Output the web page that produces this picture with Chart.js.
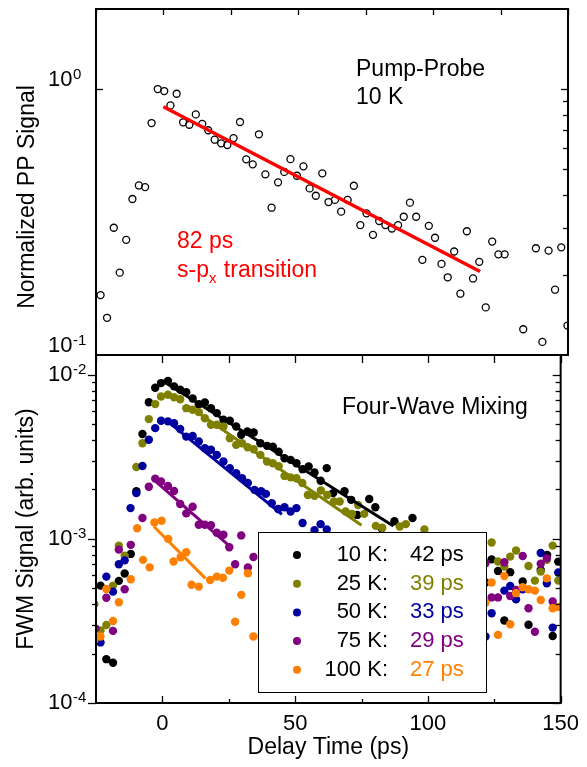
<!DOCTYPE html>
<html><head><meta charset="utf-8">
<script src="https://cdn.jsdelivr.net/npm/chart.js@4.4.1/dist/chart.umd.min.js"></script>
<style>
html,body{margin:0;padding:0;background:#fff;}
#wrap{position:relative;width:587px;height:767px;overflow:hidden;}
canvas{position:absolute;left:0;top:0;}
</style></head><body>
<div id="wrap"><canvas id="c1" width="587" height="767"></canvas><canvas id="c2" width="587" height="767"></canvas></div>
<script>
// ---------------- DATA ----------------
const ppTime = [-23.3,-20.9,-18.4,-16.2,-13.8,-11.5,-9.1,-6.8,-4.4,-2.1,0.3,2.6,4.9,7.3,9.6,12.0,14.4,16.6,19.0,21.4,23.7,26.0,28.4,30.7,33.1,35.4,37.8,40.1,42.5,44.8,47.1,49.5,51.9,54.2,56.5,58.9,61.2,63.6,65.9,68.3,70.6,73.0,75.3,77.7,80.0,82.3,84.7,87.0,89.1,91.4,93.7,96.0,98.4,100.7,103.1,105.4,107.8,110.1,112.5,114.8,117.1,119.5,121.9,124.2,126.5,133.4,138.1,140.5,142.8,145.2,147.5,149.8];
const ppSignal = [0.168,0.138,0.301,0.204,0.271,0.386,0.434,0.428,0.745,1.0,0.983,0.868,0.96,0.75,0.734,0.803,0.74,0.70,0.645,0.625,0.616,0.654,0.752,0.544,0.521,0.676,0.478,0.358,0.446,0.488,0.545,0.472,0.512,0.423,0.397,0.482,0.376,0.383,0.346,0.383,0.433,0.308,0.341,0.283,0.319,0.308,0.299,0.308,0.331,0.374,0.331,0.228,0.306,0.276,0.220,0.196,0.245,0.170,0.292,0.194,0.224,0.151,0.267,0.239,0.239,0.125,0.252,0.112,0.247,0.176,0.254,0.129];
const ppFitTime = [0, 117.4];
const ppFitSignal = [0.858, 0.206];

const t10 = [-23.3,-21.1,-18.6,-16.4,-14.2,-11.9,-9.8,-7.5,-5.1,-2.7,-0.5,2.1,4.4,6.7,9.0,11.4,13.7,16.0,18.3,20.5,23.0,25.4,27.8,29.7,32.0,34.4,36.9,39.4,41.6,43.8,46.0,48.3,50.5,52.8,55.1,57.3,59.6,61.9,64.3,68.6,71.1,73.4,77.9,80.2,82.6,87.4,94.2,121.7,124.0,126.4,128.8,131.0,135.7,137.9,142.5,144.9,147.0,149.1];
const v10 = [5.19e-4,1.85e-4,1.76e-4,5.55e-4,6.15e-4,8.1e-4,1.95e-3,4.36e-3,6.8e-3,8.33e-3,8.9e-3,9.16e-3,8.5e-3,8.1e-3,7.84e-3,7.17e-3,6.62e-3,6.78e-3,6.26e-3,5.84e-3,5.32e-3,5.25e-3,4.84e-3,4.31e-3,4.51e-3,4.45e-3,3.83e-3,3.69e-3,3.65e-3,3.4e-3,3.1e-3,3.03e-3,2.89e-3,2.66e-3,2.76e-3,2.54e-3,2.26e-3,2.7e-3,1.9e-3,1.95e-3,1.73e-3,1.4e-3,1.75e-3,1.56e-3,1.16e-3,1.28e-3,1.34e-3,5.42e-4,7.5e-4,6.38e-4,3.18e-4,6.27e-4,5.5e-4,3.0e-4,6.46e-4,7.98e-4,2.56e-4,7.27e-4];

const t25 = [-25.6,-23.3,-21.1,-18.6,-16.4,-14.2,-9.8,-7.5,-5.1,-2.7,-0.5,2.1,4.4,6.7,9.0,11.4,13.7,16.0,18.3,20.5,23.0,25.4,27.8,30.0,32.1,34.4,36.9,39.4,41.6,43.8,46.0,48.3,50.5,52.7,54.8,57.3,59.7,62.1,64.6,66.8,69.0,71.4,73.7,76.0,80.4,82.8,89.4,91.7,98.7,119.9,124.0,126.4,128.8,131.0,133.2,137.9,140.3,142.5,144.8,147.0,149.1];
const v25 = [4.0e-4,2.77e-4,2.99e-4,5.19e-4,9.1e-4,7.9e-4,2.74e-3,3.83e-3,5.37e-3,6.63e-3,7.38e-3,7.55e-3,7.3e-3,7.1e-3,6.26e-3,6.12e-3,5.92e-3,5.44e-3,4.96e-3,4.96e-3,4.84e-3,4.11e-3,3.74e-3,3.83e-3,3.62e-3,3.52e-3,3.25e-3,2.96e-3,2.89e-3,2.77e-3,2.42e-3,2.37e-3,2.34e-3,2.19e-3,1.85e-3,1.83e-3,1.97e-3,1.85e-3,1.69e-3,1.69e-3,1.47e-3,1.42e-3,1.61e-3,1.42e-3,1.2e-3,1.17e-3,1.19e-3,1.23e-3,1.14e-3,5.5e-4,9.5e-4,7.28e-4,6.78e-4,7.8e-4,8.5e-4,6.84e-4,5.57e-4,6.32e-4,7.45e-4,9.1e-4,5.57e-4];

const t50 = [-24.9,-23.3,-21.1,-18.6,-16.4,-14.2,-12.0,-9.8,-7.5,-5.1,-2.7,-0.5,2.1,4.4,6.7,9.0,11.4,13.7,16.0,18.3,20.5,23.0,25.4,27.8,30.0,32.2,34.7,37.2,39.0,41.2,43.6,46.0,48.3,50.5,52.8,57.3,59.6,61.9,119.9,121.7,124.0,128.8,131.0,133.2,135.7,142.5,144.8,147.0,149.1];
const v50 = [2.42e-4,2.34e-4,5.89e-4,4.77e-4,7.0e-4,7.4e-4,1.54e-3,1.9e-3,2.78e-3,4.02e-3,4.73e-3,5.25e-3,5.2e-3,5.07e-3,4.67e-3,4.2e-3,4.24e-3,3.92e-3,3.57e-3,3.49e-3,3.25e-3,2.96e-3,2.7e-3,2.51e-3,2.34e-3,2.19e-3,1.99e-3,1.95e-3,1.88e-3,1.65e-3,1.52e-3,1.56e-3,1.47e-3,1.54e-3,1.25e-3,1.13e-3,1.23e-3,1.14e-3,4.24e-4,2.54e-4,3.52e-4,4.84e-4,5.17e-4,4.28e-4,4.93e-4,8.2e-4,5.37e-4,2.88e-4,6.24e-4];

const t75 = [-25.2,-21.1,-18.6,-16.4,-14.2,-11.9,-7.5,-5.1,-2.7,-0.5,2.1,4.4,6.7,9.0,11.4,13.7,16.0,18.3,20.5,23.0,25.2,27.4,29.7,32.2,34.3,119.9,121.7,124.0,126.4,128.8,131.0,133.2,135.7,137.9,140.3,142.5,144.8,147.0];
const v75 = [2.85e-4,4.38e-4,2.75e-4,8.6e-4,4.93e-4,9.2e-4,1.34e-3,2.08e-3,2.33e-3,2.24e-3,2.1e-3,1.96e-3,1.63e-3,1.43e-3,1.57e-3,1.22e-3,1.22e-3,1.21e-3,1.09e-3,1.06e-3,8.9e-4,7.0e-4,1.05e-3,6.7e-4,7.76e-4,4.45e-4,7.1e-4,4.4e-4,4.4e-4,7.2e-4,4.49e-4,4.89e-4,7.87e-4,3.78e-4,2.72e-4,7.05e-4,7.62e-4,4.15e-4];

const t100 = [-25.6,-23.3,-21.1,-18.6,-16.4,-11.9,-9.5,-7.3,-4.8,-3.0,-0.3,2.2,4.2,6.9,9.0,11.0,13.7,18.0,20.5,22.8,25.2,27.4,29.7,32.2,34.3,119.9,121.7,124.0,126.4,128.8,131.0,133.2,135.7,137.9,140.3,142.5,144.8,147.0,149.1];
const v100 = [2.42e-4,2.54e-4,4.95e-4,3.16e-4,4.11e-4,5.68e-4,1.16e-3,7.45e-4,6.71e-4,1.26e-3,1.29e-3,1.0e-3,7.28e-4,7.73e-4,8.3e-4,5.25e-4,5.12e-4,5.62e-4,5.89e-4,5.8e-4,6.41e-4,3.13e-4,4.56e-4,6.18e-4,2.54e-4,2.31e-4,4.08e-4,5.42e-4,2.6e-4,5.94e-4,3.02e-4,4.67e-4,5.07e-4,4.93e-4,4.84e-4,4.24e-4,5.75e-4,3.78e-4,3.85e-4];

const fitTime = [[0, 87], [10, 75], [2, 45], [-3.2, 24.8], [-3.2, 16.2]];
const fitSignal = [[9.2e-3, 1.2e-3], [6.4e-3, 1.21e-3], [5.2e-3, 1.41e-3], [2.29e-3, 9.2e-4], [1.19e-3, 5.75e-4]];

const seriesTemps = ['10 K:', '25 K:', '50 K:', '75 K:', '100 K:'];
const seriesTaus = ['42 ps', '39 ps', '33 ps', '29 ps', '27 ps'];
const seriesColors = ['#000000', '#808000', '#0000a0', '#800080', '#ff8000'];

const xTickValues = [-25, 0, 25, 50, 75, 100, 125, 150];
const xMajorValues = [0, 50, 100, 150];
const xMinorValues = [25, 75, 125];
const xTickLabels = ['0', '50', '100', '150'];
const ppMajor = [0.1, 1];
const ppMinor = [0.2, 0.3, 0.4, 0.5, 0.6, 0.7, 0.8, 0.9];
const ppTickExp = ['-1', '0'];
const fwmMajor = [1e-4, 1e-3, 1e-2];
const fwmMinor = [2e-4,3e-4,4e-4,5e-4,6e-4,7e-4,8e-4,9e-4,2e-3,3e-3,4e-3,5e-3,6e-3,7e-3,8e-3,9e-3];
const fwmTickExp = ['-4', '-3', '-2'];

// ---------------- HELPERS ----------------
const FONT = '"Liberation Sans", Arial, Helvetica, sans-serif';
const pts = (xs, ys) => xs.map((x, i) => ({x: x, y: ys[i]}));

function vTicks(ctx, scale, x, values, len) {
  values.forEach(v => {
    const y = Math.round(scale.getPixelForValue(v)) + 0.5;
    ctx.beginPath(); ctx.moveTo(x, y); ctx.lineTo(x + len, y); ctx.stroke();
  });
}
function hTicks(ctx, scale, y, values, len) {
  values.forEach(v => {
    const x = Math.round(scale.getPixelForValue(v)) + 0.5;
    ctx.beginPath(); ctx.moveTo(x, y); ctx.lineTo(x, y + len); ctx.stroke();
  });
}
// decade labels "10" with a superscript exponent, placed by the y scale
function powLabels(ctx, scale, values, exps, dy) {
  ctx.save();
  ctx.fillStyle = '#000';
  values.forEach((v, i) => {
    const y = scale.getPixelForValue(v) + dy;
    ctx.font = '22px ' + FONT;
    ctx.textAlign = 'left'; ctx.textBaseline = 'middle';
    const bx = 48;
    ctx.fillText('10', bx, y);
    const w = ctx.measureText('10').width;
    ctx.font = '15px ' + FONT;
    ctx.textBaseline = 'alphabetic';
    ctx.fillText(exps[i], bx + w + 0.5, y - 1);
  });
  ctx.restore();
}

// ---------------- TOP: PUMP-PROBE ----------------
const topFrame = {
  id: 'topFrame',
  afterDatasetsDraw(chart) {
    const {ctx, chartArea: a, scales: {x, y}} = chart;
    ctx.save();
    ctx.strokeStyle = '#000'; ctx.lineWidth = 1.3;
    hTicks(ctx, x, a.top, xTickValues, 6);
    vTicks(ctx, y, a.left, [1], 7);
    vTicks(ctx, y, a.right, [1], -7);
    vTicks(ctx, y, a.right, ppMinor, -5);
    ctx.lineWidth = 2;
    ctx.strokeRect(a.left, a.top, a.right - a.left, a.bottom - a.top);
    ctx.restore();
  },
  afterDraw(chart) {
    const ctx = chart.ctx;
    powLabels(ctx, chart.scales.y, ppMajor, ppTickExp, -9);
    ctx.save();
    ctx.fillStyle = '#000';
    ctx.font = '23px ' + FONT;
    ctx.textBaseline = 'alphabetic';
    ctx.fillText('Pump-Probe', 356, 76);
    ctx.fillText('10 K', 356, 104);
    ctx.fillStyle = '#ff0000';
    ctx.fillText('82 ps', 177, 248);
    let xx = 177;
    ctx.fillText('s-p', xx, 277); xx += ctx.measureText('s-p').width;
    ctx.font = '15px ' + FONT;
    ctx.fillText('x', xx, 283); xx += ctx.measureText('x').width + 1;
    ctx.font = '23px ' + FONT;
    ctx.fillText(' transition', xx, 277);
    ctx.fillStyle = '#000';
    ctx.translate(28, 197);
    ctx.rotate(-Math.PI / 2);
    ctx.textAlign = 'center'; ctx.textBaseline = 'middle';
    ctx.fillText('Normalized PP Signal', 0, 0);
    ctx.restore();
  }
};

new Chart(document.getElementById('c1'), {
  type: 'scatter',
  data: {datasets: [
    {data: pts(ppFitTime, ppFitSignal), showLine: true, borderColor: '#ff0000', borderWidth: 3.5,
     pointRadius: 0, order: 0, clip: 0},
    {data: pts(ppTime, ppSignal), showLine: false, pointRadius: 3.5, pointBorderWidth: 1.3,
     pointBorderColor: '#000', pointBackgroundColor: 'rgba(0,0,0,0)', order: 1, clip: 0}
  ]},
  options: {
    responsive: false, animation: false, events: [],
    layout: {padding: {left: 0, right: 19, top: 9, bottom: 412}},
    plugins: {legend: {display: false}, tooltip: {enabled: false}},
    scales: {
      x: {type: 'linear', display: false, min: -25, max: 150},
      y: {type: 'logarithmic', min: 0.1, max: 2,
          afterFit(s) { s.width = 96; },
          afterBuildTicks(s) { s.ticks = ppMajor.map(v => ({value: v})); },
          ticks: {display: false},
          grid: {display: false, drawTicks: false}, border: {display: false}}
    }
  },
  plugins: [topFrame]
});

// ---------------- BOTTOM: FWM ----------------
const fwmSeries = [[t10, v10], [t25, v25], [t50, v50], [t75, v75], [t100, v100]];
const fwmDatasets = [];
fwmSeries.forEach((s, i) => {
  fwmDatasets.push({data: pts(s[0], s[1]), showLine: false, pointRadius: 4.2, pointBorderWidth: 0,
    pointBackgroundColor: seriesColors[i], pointBorderColor: seriesColors[i], order: 10 - i, clip: 0});
});
fitTime.forEach((ft, i) => {
  fwmDatasets.push({data: pts(ft, fitSignal[i]), showLine: true, borderColor: seriesColors[i], borderWidth: 3,
    pointRadius: 0, order: 0, clip: 0});
});

const bottomFrame = {
  id: 'bottomFrame',
  afterDatasetsDraw(chart) {
    const {ctx, chartArea: a, scales: {x, y}} = chart;
    ctx.save();
    const lx = 258, ly = 532, lw = 228, lh = 160;
    ctx.fillStyle = '#fff';
    ctx.fillRect(lx, ly, lw, lh);
    ctx.strokeStyle = '#000'; ctx.lineWidth = 1;
    ctx.strokeRect(lx + 0.5, ly + 0.5, lw, lh);
    ctx.font = '22px ' + FONT;
    ctx.textBaseline = 'middle';
    seriesTemps.forEach((t, i) => {
      const ry = 555 + i * 28.7;
      ctx.fillStyle = seriesColors[i];
      ctx.beginPath(); ctx.arc(297, ry, 4, 0, Math.PI * 2); ctx.fill();
      ctx.fillStyle = '#000'; ctx.textAlign = 'right';
      ctx.fillText(t, 388, ry);
      ctx.fillStyle = seriesColors[i]; ctx.textAlign = 'left';
      ctx.fillText(seriesTaus[i], 410, ry);
    });
    ctx.strokeStyle = '#000'; ctx.lineWidth = 1.3;
    hTicks(ctx, x, a.top, xTickValues, 8);
    hTicks(ctx, x, a.bottom, xMajorValues, -7);
    hTicks(ctx, x, a.bottom, xMinorValues, -4);
    vTicks(ctx, y, a.left, fwmMajor, -8);
    vTicks(ctx, y, a.left, fwmMinor, -4);
    vTicks(ctx, y, a.right, fwmMajor, -8);
    vTicks(ctx, y, a.right, fwmMinor, -5);
    ctx.lineWidth = 2;
    ctx.strokeRect(a.left, a.top, a.right - a.left, a.bottom - a.top);
    ctx.restore();
  },
  afterDraw(chart) {
    const ctx = chart.ctx;
    powLabels(ctx, chart.scales.y, fwmMajor, fwmTickExp, 0);
    ctx.save();
    ctx.fillStyle = '#000';
    ctx.font = '23px ' + FONT;
    ctx.textBaseline = 'alphabetic';
    ctx.fillText('Four-Wave Mixing', 342, 414);
    ctx.restore();
  }
};

new Chart(document.getElementById('c2'), {
  type: 'scatter',
  data: {datasets: fwmDatasets},
  options: {
    responsive: false, animation: false, events: [],
    layout: {padding: {left: 0, right: 19, top: 355, bottom: 0}},
    plugins: {legend: {display: false}, tooltip: {enabled: false}},
    scales: {
      x: {type: 'linear', min: -25, max: 150,
          afterFit(s) { s.height = 64; },
          afterBuildTicks(s) { s.ticks = xMajorValues.map(v => ({value: v})); },
          ticks: {callback: v => xTickLabels[xMajorValues.indexOf(v)], font: {family: FONT, size: 22},
                  color: '#000', padding: 8, maxRotation: 0, autoSkip: false},
          grid: {display: false, drawTicks: false}, border: {display: false},
          title: {display: true, text: 'Delay Time (ps)', color: '#000', font: {family: FONT, size: 23},
                  padding: {top: 0, bottom: 6}}},
      y: {type: 'logarithmic', min: 1e-4, max: 0.0132,
          afterFit(s) { s.width = 96; },
          afterBuildTicks(s) { s.ticks = fwmMajor.map(v => ({value: v})); },
          ticks: {display: false},
          grid: {display: false, drawTicks: false}, border: {display: false},
          title: {display: true, text: 'FWM Signal (arb. units)', color: '#000', font: {family: FONT, size: 23},
                  padding: {top: 13, bottom: 0}}}
    }
  },
  plugins: [bottomFrame]
});
</script>
</body></html>
